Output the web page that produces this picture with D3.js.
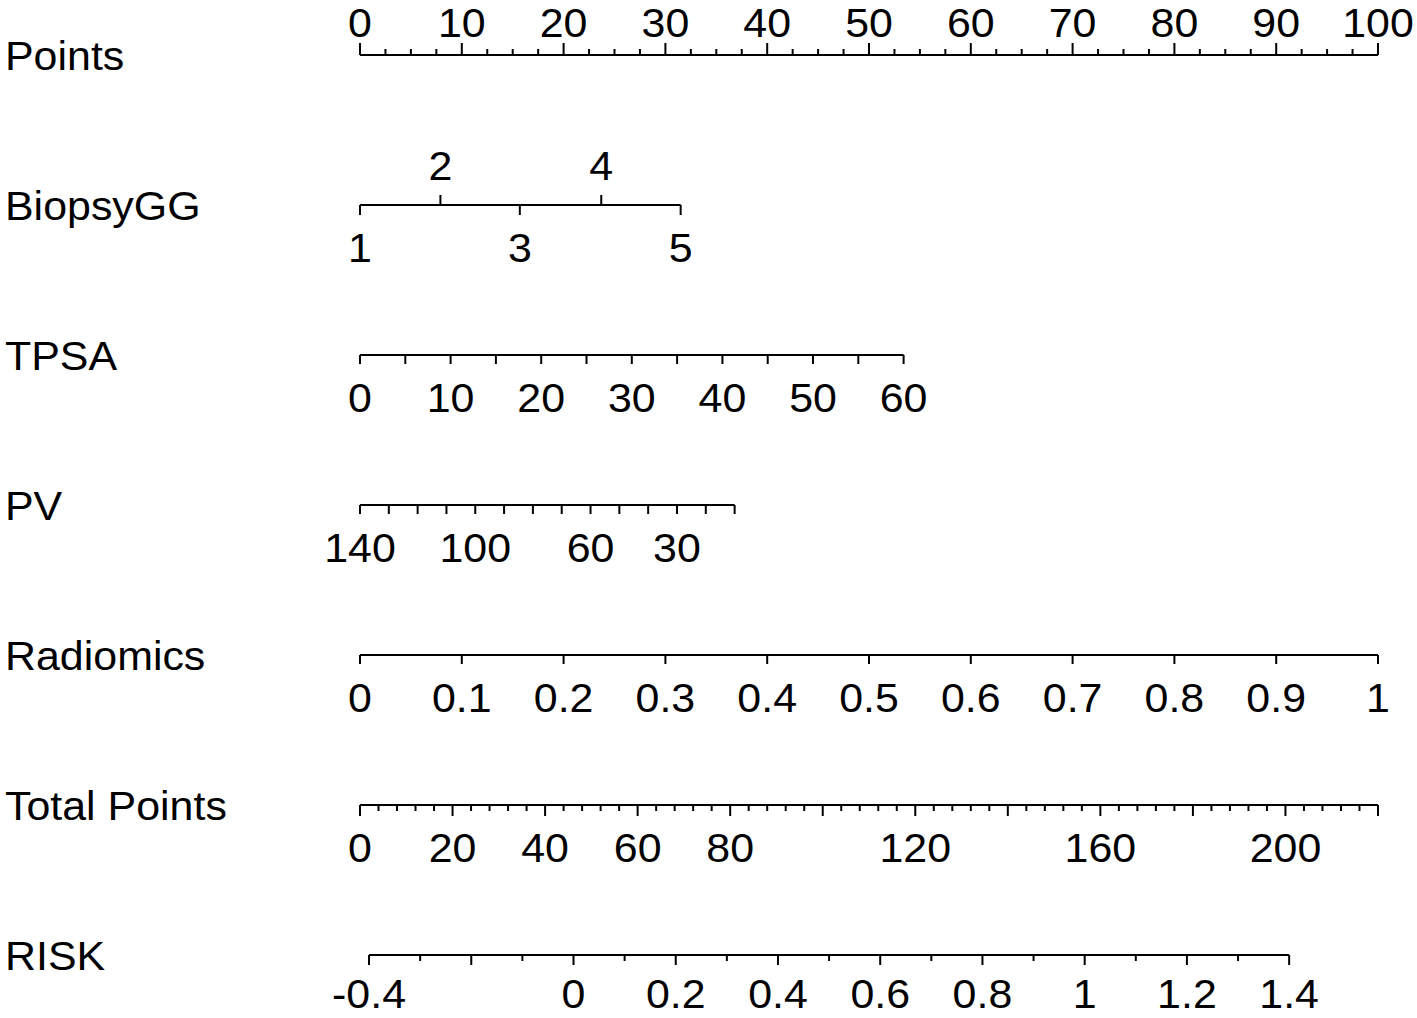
<!DOCTYPE html>
<html><head><meta charset="utf-8">
<script src="https://cdn.jsdelivr.net/npm/d3@7"></script>
<style>html,body{margin:0;padding:0;background:#fff;overflow:hidden}</style>
</head><body>
<svg id="chart" width="1417" height="1018"></svg>
<script>
// ---- data ----
const rowNames = ["Points", "BiopsyGG", "TPSA", "PV", "Radiomics", "Total Points", "RISK"];

const pointsDomain = [0, 100];
const pointsTicks = d3.range(0, 41).map(i => i * 2.5);
const pointsLabels = [0, 10, 20, 30, 40, 50, 60, 70, 80, 90, 100];

const biopsyValues = [1, 2, 3, 4, 5];
const biopsyPoints = [0, 7.9, 15.7, 23.7, 31.5];
const biopsyLabelsAbove = [2, 4];

const tpsaDomain = [0, 60];
const tpsaPoints = [0, 53.4];
const tpsaTicks = d3.range(0, 13).map(i => i * 5);
const tpsaLabels = [0, 10, 20, 30, 40, 50, 60];

const pvDomain = [140, 10];
const pvPoints = [0, 36.8];
const pvTicks = d3.range(0, 14).map(i => 140 - i * 10);
const pvLabels = [140, 100, 60, 30];

const radDomain = [0, 1];
const radPoints = [0, 100];
const radTicks = d3.range(0, 11).map(i => i / 10);
const radLabels = d3.range(0, 11).map(i => i / 10);

const totalDomain = [0, 220];
const totalTicks = d3.range(0, 56).map(i => i * 4);
const totalLabels = [0, 20, 40, 60, 80, 120, 160, 200];

const riskDomain = [-0.4, 1.4];
const riskTotalPoints = [1.95, 200.8];
const riskTicks = d3.range(-4, 15).map(i => i / 10);
const riskLabels = [-0.4, 0, 0.2, 0.4, 0.6, 0.8, 1, 1.2, 1.4];

// ---- layout ----
const x0 = 360, x1 = 1378;
const rowY = d3.scaleLinear().domain([0, 6]).range([55, 955]);
const FS = 40.5, SX = 1.06;

const svg = d3.select("#chart");
const pointsX = d3.scaleLinear(pointsDomain, [x0, x1]);
const totalX = d3.scaleLinear(totalDomain, [x0, x1]);

const fmt = v => String(+v.toFixed(2));
const has = (arr, v) => arr.some(a => Math.abs(a - v) < 1e-9);

function text(g, x, y, s, anchor) {
  g.append("text")
    .attr("transform", `translate(${x},${y}) scale(${SX},1)`)
    .attr("text-anchor", anchor || "middle")
    .attr("font-family", "'Liberation Sans', Arial, sans-serif")
    .attr("font-size", FS)
    .attr("fill", "#000")
    .text(s);
}

function drawAxis(opts) {
  const L = rowY(opts.row);
  const g = svg.append("g");
  const sc = opts.scale;
  const xs = opts.ticks.map(sc);
  g.append("line")
    .attr("x1", d3.min(xs)).attr("x2", d3.max(xs))
    .attr("y1", L).attr("y2", L)
    .attr("stroke", "#000").attr("stroke-width", 2);
  g.selectAll("line.tick").data(opts.ticks).join("line")
    .attr("class", "tick")
    .attr("x1", d => sc(d)).attr("x2", d => sc(d))
    .attr("y1", L)
    .attr("y2", d => L + opts.dir(d) * opts.len(d))
    .attr("stroke", "#000").attr("stroke-width", 2);
  const below = opts.below || 57;
  opts.labels.forEach(v => {
    const up = opts.dir(v) < 0;
    text(g, sc(v), up ? L - opts.above : L + below, fmt(v));
  });
  text(svg, 5, L + 15, rowNames[opts.row], "start");
}

// Points
drawAxis({
  row: 0, scale: pointsX, ticks: pointsTicks, labels: pointsLabels,
  dir: () => -1, len: d => (d % 10 === 0 ? 12 : 6), above: 18
});

// BiopsyGG
const biopsyX = d3.scaleLinear(biopsyValues, biopsyPoints.map(pointsX));
drawAxis({
  row: 1, scale: biopsyX, ticks: biopsyValues, labels: biopsyValues,
  dir: d => (has(biopsyLabelsAbove, d) ? -1 : 1), len: () => 10, above: 25
});

// TPSA
const tpsaX = d3.scaleLinear(tpsaDomain, tpsaPoints.map(pointsX));
drawAxis({
  row: 2, scale: tpsaX, ticks: tpsaTicks, labels: tpsaLabels,
  dir: () => 1, len: () => 9
});

// PV
const pvX = d3.scaleLinear(pvDomain, pvPoints.map(pointsX));
drawAxis({
  row: 3, scale: pvX, ticks: pvTicks, labels: pvLabels,
  dir: () => 1, len: () => 9
});

// Radiomics
const radX = d3.scaleLinear(radDomain, radPoints.map(pointsX));
drawAxis({
  row: 4, scale: radX, ticks: radTicks, labels: radLabels,
  dir: () => 1, len: () => 9
});

// Total Points
drawAxis({
  row: 5, scale: totalX, ticks: totalTicks, labels: totalLabels,
  dir: () => 1, len: d => (d % 20 === 0 ? 11 : 6)
});

// RISK
const riskX = d3.scaleLinear(riskDomain, riskTotalPoints.map(totalX));
drawAxis({
  row: 6, scale: riskX, ticks: riskTicks, labels: riskLabels,
  dir: () => 1, len: d => (Math.round(d * 10) % 2 === 0 ? 10 : 6), below: 53
});
</script>
</body></html>
